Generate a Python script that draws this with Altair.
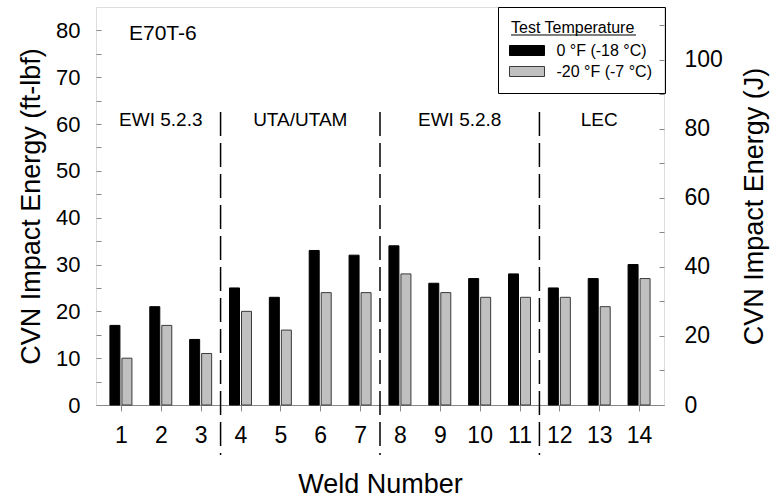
import altair as alt
import pandas as pd

welds = list(range(1, 15))
cvn_0f = [17, 21, 14, 25, 23, 33, 32, 34, 26, 27, 28, 25, 27, 30]
cvn_m20f = [10, 17, 11, 20, 16, 24, 24, 28, 24, 23, 23, 23, 21, 27]
series = ["0 °F (-18 °C)", "-20 °F (-7 °C)"]
group_names = ["EWI 5.2.3", "UTA/UTAM", "EWI 5.2.8", "LEC"]
group_centers = [2, 5.5, 9.5, 13]
dividers = [3.5, 7.5, 11.5]
FT_TO_J = 1.35582

rows = []
for w, a, b in zip(welds, cvn_0f, cvn_m20f):
    rows.append({"weld": w, "cvn": a, "series": series[0]})
    rows.append({"weld": w, "cvn": b, "series": series[1]})
df = pd.DataFrame(rows)
df_groups = pd.DataFrame({"x": group_centers, "name": group_names})
df_div = pd.DataFrame({"x": dividers})

FONT = "Liberation Sans"
YMAX = 85

xenc = alt.X("weld:Q", scale=alt.Scale(domain=[0.5, 14.5], nice=False, zero=False),
             axis=alt.Axis(values=welds, format="d", title="Weld Number", grid=False,
                           tickSize=6, labelFontSize=23, titleFontSize=27,
                           labelPadding=13, titlePadding=24, labelFlush=False,
                           titleFontWeight="normal", titleFont=FONT, labelFont=FONT))
yscale = alt.Scale(domain=[0, YMAX], nice=False)
yaxis = alt.Axis(values=list(range(0, 85, 5)), grid=False, tickSize=5, offset=-5,
                 domain=False,
                 labelExpr="datum.value % 10 === 0 ? datum.label : ''",
                 title="CVN Impact Energy (ft-lbf)", labelFontSize=22, titleFontSize=27,
                 labelPadding=16, titlePadding=10, titleFontWeight="normal",
                 titleFont=FONT, labelFont=FONT)

fill_scale = alt.Scale(domain=series, range=["#000000", "#C0C0C0"])
stroke_scale = alt.Scale(domain=series, range=["#000000", "#3A3A3A"])
legend = alt.Legend(title="Test Temperature", orient="none", legendX=402, legendY=0,
                    strokeColor="black", padding=13, titleFontSize=16, labelFontSize=16,
                    titleFontWeight="normal", labelFont=FONT, titleFont=FONT,
                    symbolType="M-1.75,-0.5L1.75,-0.5L1.75,0.5L-1.75,0.5Z",
                    symbolSize=400, symbolOffset=5.5, labelOffset=19, rowPadding=2,
                    titlePadding=4, symbolStrokeWidth=1)

base = alt.Chart(df)
bars_black = base.transform_filter(alt.datum.series == series[0]).mark_bar(
    size=10, xOffset=-6, strokeWidth=1).encode(
    x=xenc,
    y=alt.Y("cvn:Q", scale=yscale, axis=yaxis),
    fill=alt.Fill("series:N", scale=fill_scale, legend=legend, sort=series),
    stroke=alt.Stroke("series:N", scale=stroke_scale, legend=legend, sort=series),
)
bars_gray = base.transform_filter(alt.datum.series == series[1]).mark_bar(
    size=10, xOffset=6, strokeWidth=1).encode(
    x=xenc,
    y=alt.Y("cvn:Q", scale=yscale, axis=yaxis),
    fill=alt.Fill("series:N", scale=fill_scale, legend=legend, sort=series),
    stroke=alt.Stroke("series:N", scale=stroke_scale, legend=legend, sort=series),
)

divs = alt.Chart(df_div).mark_rule(color="black", strokeWidth=1.5, strokeDash=[24, 7]).encode(
    x=alt.X("x:Q", scale=alt.Scale(domain=[0.5, 14.5], nice=False, zero=False)),
    y=alt.value(105), y2=alt.value(448))

labels = alt.Chart(df_groups).mark_text(font=FONT, fontSize=19, baseline="middle",
                                        align="center").encode(
    x="x:Q", y=alt.value(113), text="name:N")

title_txt = alt.Chart(pd.DataFrame({"t": ["E70T-6"]})).mark_text(
    font=FONT, fontSize=21, align="left", baseline="middle").encode(
    x=alt.value(33), y=alt.value(27), text="t:N")

underline = alt.Chart(pd.DataFrame({"t": [1]})).mark_rule(color="black", strokeWidth=1.2).encode(
    x=alt.value(415), x2=alt.value(540), y=alt.value(28))

right = base.transform_calculate(j=f"datum.cvn * {FT_TO_J}").mark_point(opacity=0).encode(
    x=xenc,
    y=alt.Y("j:Q", scale=alt.Scale(domain=[0, YMAX * FT_TO_J], nice=False),
            axis=alt.Axis(orient="right", values=list(range(0, 120, 10)), grid=False,
                          tickSize=5, offset=-5, domain=False,
                          labelExpr="datum.value % 20 === 0 ? datum.label : ''",
                          title="CVN Impact Energy (J)", labelFontSize=23, titleFontSize=27,
                          labelPadding=20, titlePadding=46, titleAngle=270,
                          titleFontWeight="normal", titleFont=FONT, labelFont=FONT)))

left_layer = alt.layer(bars_black, bars_gray, divs, labels, title_txt, underline)
chart = alt.layer(left_layer, right).resolve_scale(y="independent").properties(
    width=568, height=398,
    autosize=alt.AutoSizeParams(type="none"),
    padding={"left": 96, "top": 7, "right": 113, "bottom": 93},
).configure_view(stroke="black", strokeWidth=1).configure_axis(
    labelFont=FONT, titleFont=FONT, titleFontWeight="normal", domainColor="black",
    tickColor="black", labelColor="black", titleColor="black", domainWidth=1,
).configure(background="white")

chart.save("out.html", embed_options={"renderer": "svg", "actions": False})
